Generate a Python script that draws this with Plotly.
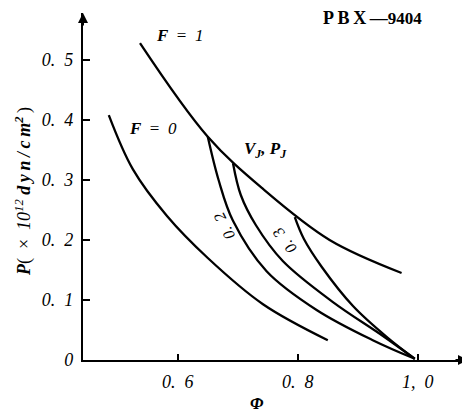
import plotly.graph_objects as go

# ---- data ----
f1_x = [0.537, 0.650, 0.742, 0.853, 0.973]
f1_y = [0.528, 0.372, 0.285, 0.200, 0.145]

f0_x = [0.485, 0.525, 0.582, 0.650, 0.742, 0.850]
f0_y = [0.408, 0.318, 0.240, 0.170, 0.093, 0.033]

c1_x = [0.650, 0.668, 0.692, 0.748, 0.832, 0.925, 0.995]
c1_y = [0.372, 0.300, 0.232, 0.148, 0.083, 0.033, 0.002]

c2_x = [0.692, 0.705, 0.730, 0.775, 0.858, 0.942, 0.995]
c2_y = [0.328, 0.275, 0.225, 0.165, 0.097, 0.040, 0.002]

c3_x = [0.795, 0.810, 0.840, 0.892, 0.950, 0.995]
c3_y = [0.238, 0.202, 0.155, 0.090, 0.037, 0.002]

x_tickvals = [0.6, 0.8, 1.0]
x_ticktext = ["0.  6", "0.  8", "1,  0"]
y_tickvals = [0.0, 0.1, 0.2, 0.3, 0.4, 0.5]
y_ticktext = ["0", "0.  1", "0.  2", "0.  3", "0.  4", "0.  5"]

X_RANGE = [0.442, 1.0837]
Y_RANGE = [0.0, 0.5783]

SERIF = "Liberation Serif"
line_style = dict(color="black", width=2.3, shape="spline", smoothing=1.0)

fig = go.Figure()
for xs, ys in [(f1_x, f1_y), (f0_x, f0_y), (c1_x, c1_y), (c2_x, c2_y), (c3_x, c3_y)]:
    fig.add_trace(go.Scatter(x=xs, y=ys, mode="lines", line=line_style,
                             showlegend=False, hoverinfo="skip"))

# the page body adds an 8px offset, so margins are shifted to compensate
fig.update_layout(
    width=470, height=418,
    margin=dict(l=75, r=10, t=5, b=66, autoexpand=False),
    paper_bgcolor="white", plot_bgcolor="white",
    font=dict(family=SERIF, color="black"),
    xaxis=dict(range=X_RANGE, showgrid=False, zeroline=False, automargin=False,
               showline=True, linecolor="black", linewidth=2,
               ticks="inside", ticklen=6, tickwidth=1.5, tickcolor="black",
               tickvals=x_tickvals, ticktext=[f"<i>{t}</i>" for t in x_ticktext],
               tickfont=dict(family=SERIF, size=18, color="black"),
               ticklabelstandoff=4),
    yaxis=dict(range=Y_RANGE, showgrid=False, zeroline=False, automargin=False,
               showline=True, linecolor="black", linewidth=2.2,
               ticks="inside", ticklen=7, tickwidth=1.5, tickcolor="black",
               tickvals=y_tickvals, ticktext=[f"<i>{t}</i>" for t in y_ticktext],
               tickfont=dict(family=SERIF, size=18, color="black"),
               ticklabelstandoff=4),
)

# axis arrows
fig.add_annotation(x=0, y=1.0, xref="paper", yref="paper", ax=0, ay=14,
                   text="", showarrow=True, arrowhead=2, arrowsize=1.0,
                   arrowwidth=2, arrowcolor="black")
fig.add_annotation(x=1.0, y=0, xref="paper", yref="paper", ax=-14, ay=0,
                   text="", showarrow=True, arrowhead=2, arrowsize=1.0,
                   arrowwidth=2, arrowcolor="black")

def label(text, x, y, size=17, angle=0):
    fig.add_annotation(x=x, y=y, xref="x", yref="y",
                       text=text, showarrow=False, textangle=angle,
                       xanchor="center", yanchor="middle",
                       font=dict(family=SERIF, size=size, color="black"))

label("<b><i>F</i></b>  =  <i>1</i>", 0.602, 0.540)
label("<b><i>F</i></b>  =  <i>0</i>", 0.558, 0.385)
label("<b><i>V<sub>J</sub>, P<sub>J</sub></i></b>", 0.747, 0.350, size=17)
label("<b>P\u2009B\u2009X\u2009\u2014<span style='font-size:17px'>9404</span></b>",
      0.925, 0.570, size=18)
label("<i>0.  2</i>", 0.677, 0.223, size=16, angle=-117)
label("<i>0.  3</i>", 0.778, 0.198, size=16, angle=-128)

# axis titles
fig.add_annotation(x=-59 / 385, y=0.484, xref="paper", yref="paper",
                   xanchor="center", yanchor="middle",
                   text="<b><i>P</i></b>(  \u00d7  <i>10<sup>12</sup></i> "
                        "<b><i>d\u2009y\u2009n\u2009/\u2009c\u2009m<sup>2</sup></i></b>\u2009)",
                   showarrow=False, textangle=-90,
                   font=dict(family=SERIF, size=18, color="black"))
fig.add_annotation(x=0.6 + (257 - 178) / 600, y=-43 / 347, xref="x", yref="paper",
                   xanchor="center", yanchor="middle",
                   text="<b><i>\u03a6</i></b>", showarrow=False,
                   font=dict(family=SERIF, size=17, color="black"))

fig.write_html("out.html")
